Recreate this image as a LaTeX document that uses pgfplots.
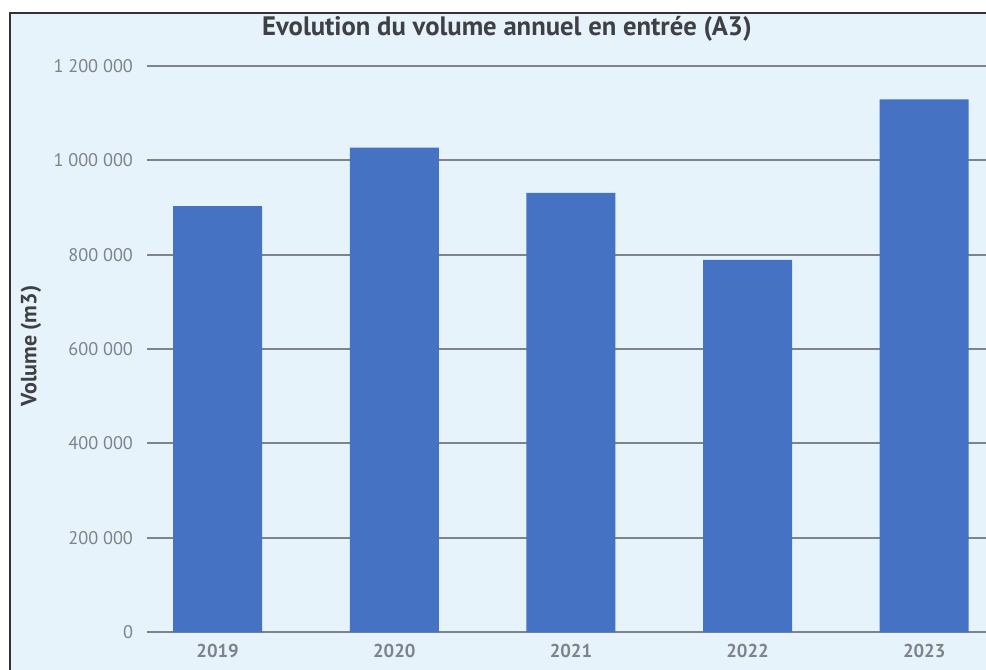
\documentclass[border=0pt]{standalone}
\usepackage{pgfplots}
\pgfplotsset{compat=1.18}
\usepackage{fontspec}
\setmainfont{PT Sans}
\definecolor{bg}{HTML}{E6F3FA}
\definecolor{barc}{HTML}{4672C4}
\definecolor{gridc}{HTML}{7E828B}
\definecolor{ticklab}{HTML}{7E828B}
\definecolor{titlec}{HTML}{3F4045}
\begin{document}
\begin{tikzpicture}[x=0.75pt,y=0.75pt]
\clip (0,0) rectangle (986,669);
\fill[white] (0,0) rectangle (986,669);
\draw[line width=1.5pt, fill=bg, draw=black!80] (10,656) rectangle (1000,-10);
\begin{axis}[
  at={(110.25pt,27.75pt)}, anchor=south west,
  scale only axis, width=629.25pt, height=424.5pt,
  xmin=-0.4, xmax=4.35, ymin=0, ymax=1200000,
  axis line style={draw=none},
  tick style={draw=none},
  ymajorgrids, grid style={gridc, line width=1.4pt},
  xtick={0,1,2,3,4},
  xticklabels={2019,2020,2021,2022,2023},
  ytick={0,200000,400000,600000,800000,1000000,1200000},
  yticklabels={0,200 000,400 000,600 000,800 000,1 000 000,1 200 000},
  scaled y ticks=false,
  yticklabel style={font=\fontsize{13.7}{15}\selectfont, text=ticklab, anchor=east, xshift=-7pt},
  xticklabel style={font=\fontsize{14}{16}\selectfont\bfseries, text=ticklab, anchor=center, yshift=-10pt},
  ybar, bar width=66.75pt,
]
\addplot[fill=barc, draw=none] coordinates {(0,903000) (1,1027000) (2,931000) (3,789000) (4,1129000)};
\end{axis}
\node[font=\fontsize{20}{23}\selectfont\bfseries, text=titlec] at (507,640) {Evolution du volume annuel en entrée (A3)};
\node[font=\fontsize{16.5}{19}\selectfont\bfseries, text=titlec, rotate=90] at (31,323) {Volume (m3)};
\end{tikzpicture}
\end{document}
